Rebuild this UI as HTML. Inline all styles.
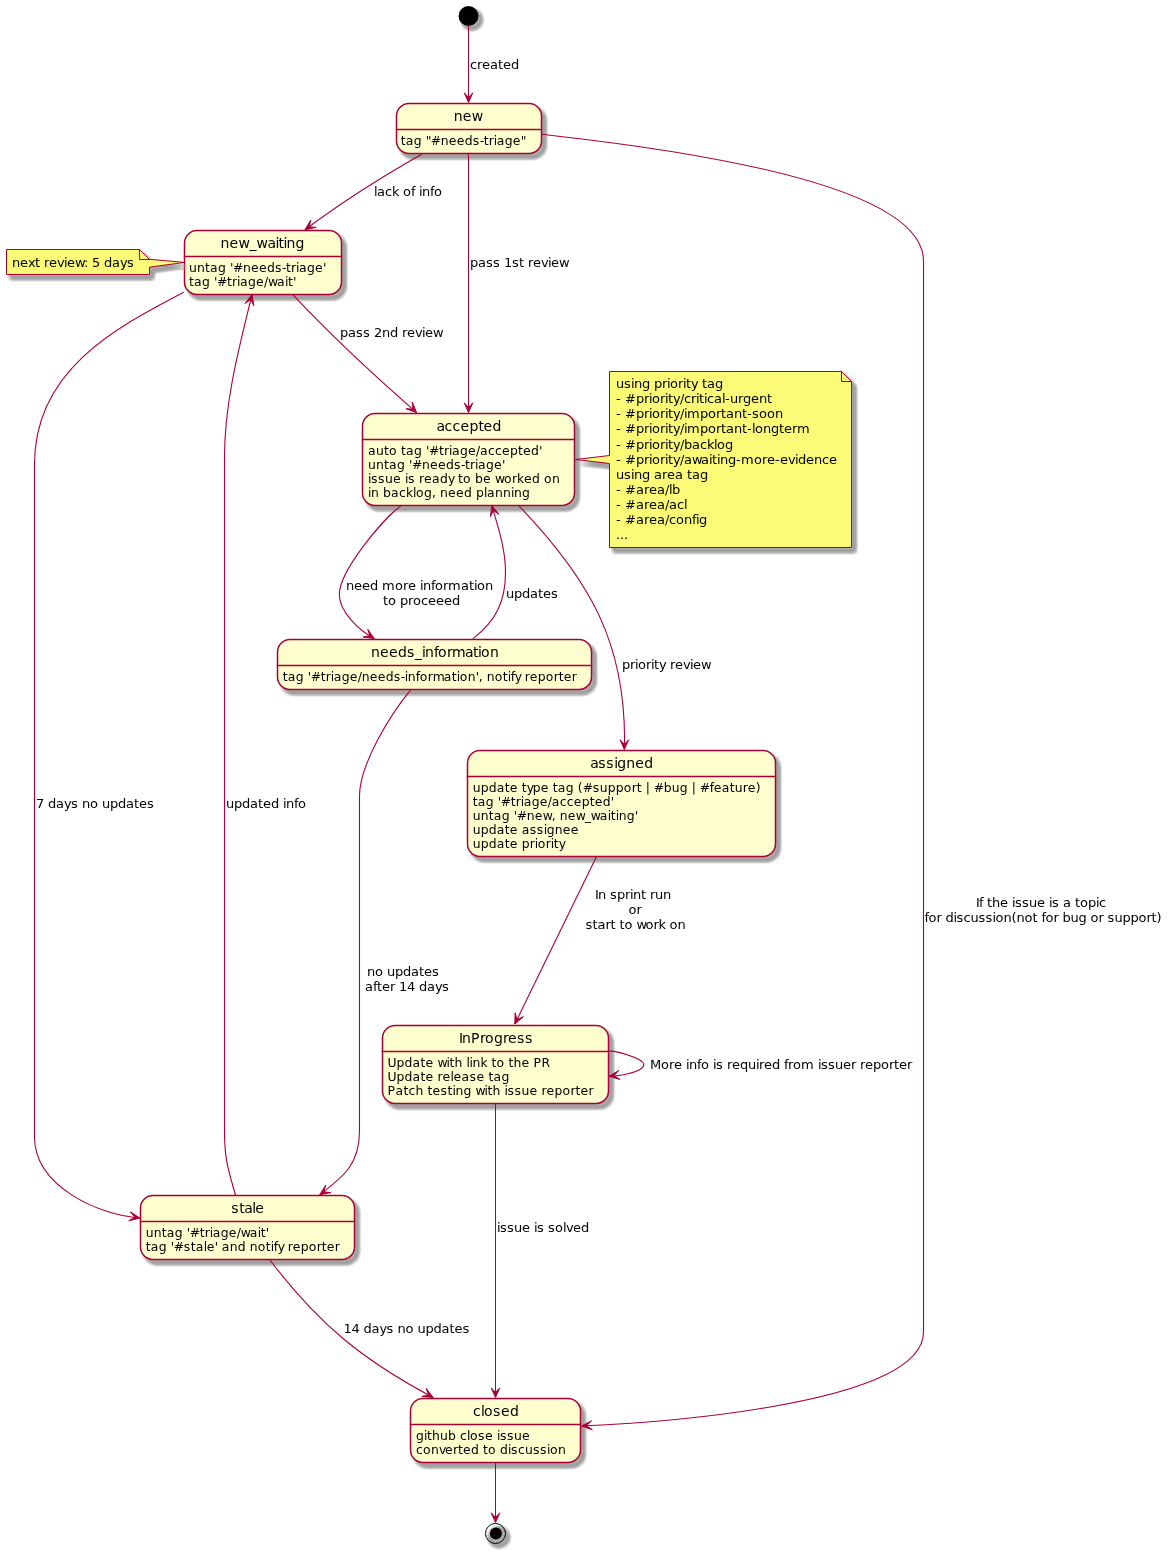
<!DOCTYPE html>
<html><head><meta charset="utf-8"><title>Issue triage state diagram</title>
<style>
html,body{margin:0;padding:0;background:#fff;}
body{width:1168px;height:1554px;overflow:hidden;}
svg{display:block;will-change:transform;}
text{font-family:"DejaVu Sans","Liberation Sans",sans-serif;fill:#000;}
</style></head><body>
<svg width="1168" height="1554" viewBox="0 0 1168 1554">
<defs><filter id="sh" x="-60%" y="-60%" width="220%" height="220%" color-interpolation-filters="sRGB">
<feOffset in="SourceAlpha" dx="4" dy="4" result="o"/>
<feConvolveMatrix in="o" order="6" kernelMatrix="1 1 1 1 1 1 1 1 1 1 1 1 1 1 1 1 1 1 1 1 1 1 1 1 1 1 1 1 1 1 1 1 1 1 1 1" divisor="36" targetX="2" targetY="2" edgeMode="none" preserveAlpha="false" result="b"/>
<feComponentTransfer in="b" result="t"><feFuncA type="table" tableValues="0.000 0.072 0.142 0.209 0.273 0.335 0.394 0.450 0.503 0.553 0.601 0.646 0.689 0.728 0.765 0.799 0.831 0.859 0.885 0.909 0.929 0.947 0.962 0.974 0.984 0.991 0.995 0.996 0.995 0.991 0.984 0.974 0.962 0.947 0.929 0.909 0.885"/></feComponentTransfer>
<feColorMatrix in="t" type="matrix" values="0 0 0 0 0.6235  0 0 0 0 0.6235  0 0 0 0 0.6235  0 0 0 1 0"/>
</filter></defs>
<rect x="0" y="0" width="1168" height="1554" fill="#FFFFFF"/>
<ellipse cx="468.5" cy="16" rx="10" ry="10" fill="#000" transform="translate(0,0.3)" filter="url(#sh)"/>
<ellipse cx="468.5" cy="16" rx="10" ry="10" fill="#000000"/>
<rect x="396.5" y="103.5" width="145" height="50" rx="12.5" ry="12.5" fill="#000" transform="translate(0.4,0.9)" filter="url(#sh)"/>
<rect x="396.5" y="103.5" width="145" height="50" rx="12.5" ry="12.5" fill="#FEFECE" stroke="#A80036" stroke-width="1.5"/>
<line x1="396.5" y1="129.4" x2="541.5" y2="129.4" stroke="#A80036" stroke-width="1.5" stroke-linecap="square"/>
<text x="453.8 462.8 471.8" y="120.5" font-size="14">new</text>
<text x="400.8 405.8 413.8 421.8 425.8 430.8 440.8 448.8 456.8 464.8 472.8 479.8 483.8 488.8 493.8 496.8 504.8 512.8 520.8" y="144.95" font-size="12.4">tag &quot;#needs-triage&quot;</text>
<rect x="184.5" y="230.5" width="157" height="64" rx="12.5" ry="12.5" fill="#000" transform="translate(0.4,0.9)" filter="url(#sh)"/>
<rect x="184.5" y="230.5" width="157" height="64" rx="12.5" ry="12.5" fill="#FEFECE" stroke="#A80036" stroke-width="1.5"/>
<line x1="184.5" y1="256.4" x2="341.5" y2="256.4" stroke="#A80036" stroke-width="1.5" stroke-linecap="square"/>
<text x="220.6 229.6 238.6 249.6 256.6 267.6 275.6 278.6 283.6 286.6 295.6" y="247.5" font-size="14">new_waiting</text>
<text x="189 197 205 210 218 226 230 233 243 251 259 267 275 282 286 291 296 299 307 315 323" y="271.95" font-size="12.4">untag '#needs-triage'</text>
<text x="189 194 202 210 214 217 227 232 237 240 248 256 264 268 277 285 288 293" y="285.95" font-size="12.4">tag '#triage/wait'</text>
<rect x="362.5" y="413.5" width="212" height="92" rx="12.5" ry="12.5" fill="#000" transform="translate(0.4,0.9)" filter="url(#sh)"/>
<rect x="362.5" y="413.5" width="212" height="92" rx="12.5" ry="12.5" fill="#FEFECE" stroke="#A80036" stroke-width="1.5"/>
<line x1="362.5" y1="439.4" x2="574.5" y2="439.4" stroke="#A80036" stroke-width="1.5" stroke-linecap="square"/>
<text x="436.4 444.4 452.4 460.4 469.4 478.4 483.4 492.4" y="430.5" font-size="14">accepted</text>
<text x="368.1 376.1 384.1 389.1 397.1 401.1 406.1 414.1 422.1 426.1 429.1 439.1 444.1 449.1 452.1 460.1 468.1 476.1 480.1 488.1 495.1 502.1 510.1 518.1 523.1 531.1 539.1" y="454.95" font-size="12.4">auto tag '#triage/accepted'</text>
<text x="368.1 376.1 384.1 389.1 397.1 405.1 409.1 412.1 422.1 430.1 438.1 446.1 454.1 461.1 465.1 470.1 475.1 478.1 486.1 494.1 502.1" y="468.95" font-size="12.4">untag '#needs-triage'</text>
<text x="368.1 371.1 378.1 385.1 393.1 401.1 405.1 408.1 415.1 419.1 424.1 432.1 440.1 448.1 454.1 458.1 463.1 471.1 475.1 483.1 491.1 495.1 504.1 512.1 517.1 524.1 532.1 540.1 544.1 552.1" y="482.95" font-size="12.4">issue is ready to be worked on</text>
<text x="368.1 371.1 379.1 383.1 391.1 399.1 406.1 413.1 416.1 424.1 432.1 436.1 440.1 448.1 456.1 464.1 472.1 476.1 484.1 487.1 495.1 503.1 511.1 514.1 522.1" y="496.95" font-size="12.4">in backlog, need planning</text>
<rect x="277.5" y="639.5" width="314" height="50" rx="12.5" ry="12.5" fill="#000" transform="translate(0.4,0.9)" filter="url(#sh)"/>
<rect x="277.5" y="639.5" width="314" height="50" rx="12.5" ry="12.5" fill="#FEFECE" stroke="#A80036" stroke-width="1.5"/>
<line x1="277.5" y1="665.4" x2="591.5" y2="665.4" stroke="#A80036" stroke-width="1.5" stroke-linecap="square"/>
<text x="370.9 379.9 388.9 397.9 406.9 414.9 421.9 424.9 433.9 437.9 446.9 451.9 464.9 472.9 477.9 480.9 489.9" y="656.5" font-size="14">needs_information</text>
<text x="282.8 287.8 295.8 303.8 307.8 310.8 320.8 325.8 330.8 333.8 341.8 349.8 357.8 361.8 369.8 377.8 385.8 393.8 400.8 404.8 407.8 415.8 419.8 427.8 432.8 443.8 451.8 456.8 459.8 467.8 475.8 478.8 482.8 486.8 494.8 502.8 507.8 510.8 514.8 520.8 524.8 529.8 537.8 545.8 553.8 558.8 563.8 571.8" y="680.95" font-size="12.4">tag '#triage/needs-information', notify reporter</text>
<rect x="467.5" y="750.5" width="308" height="106" rx="12.5" ry="12.5" fill="#000" transform="translate(0.4,0.9)" filter="url(#sh)"/>
<rect x="467.5" y="750.5" width="308" height="106" rx="12.5" ry="12.5" fill="#FEFECE" stroke="#A80036" stroke-width="1.5"/>
<line x1="467.5" y1="776.4" x2="775.5" y2="776.4" stroke="#A80036" stroke-width="1.5" stroke-linecap="square"/>
<text x="590.2 598.2 606.2 614.2 617.2 626.2 635.2 644.2" y="767.5" font-size="14">assigned</text>
<text x="472.8 480.8 488.8 496.8 504.8 509.8 517.8 521.8 526.8 532.8 540.8 548.8 552.8 557.8 565.8 573.8 577.8 582.8 592.8 599.8 607.8 615.8 623.8 631.8 636.8 641.8 645.8 649.8 653.8 663.8 671.8 679.8 687.8 691.8 695.8 699.8 709.8 713.8 721.8 729.8 734.8 742.8 747.8 755.8" y="791.95" font-size="12.4">update type tag (#support | #bug | #feature)</text>
<text x="472.8 477.8 485.8 493.8 497.8 500.8 510.8 515.8 520.8 523.8 531.8 539.8 547.8 551.8 559.8 566.8 573.8 581.8 589.8 594.8 602.8 610.8" y="805.95" font-size="12.4">tag '#triage/accepted'</text>
<text x="472.8 480.8 488.8 493.8 501.8 509.8 513.8 516.8 526.8 534.8 542.8 551.8 555.8 559.8 567.8 575.8 584.8 590.8 599.8 607.8 610.8 615.8 618.8 626.8 634.8" y="819.95" font-size="12.4">untag '#new, new_waiting'</text>
<text x="472.8 480.8 488.8 496.8 504.8 509.8 517.8 521.8 529.8 536.8 543.8 546.8 554.8 562.8 570.8" y="833.95" font-size="12.4">update assignee</text>
<text x="472.8 480.8 488.8 496.8 504.8 509.8 517.8 521.8 529.8 534.8 537.8 545.8 550.8 553.8 558.8" y="847.95" font-size="12.4">update priority</text>
<rect x="382.5" y="1025.5" width="226" height="78" rx="12.5" ry="12.5" fill="#000" transform="translate(0.4,0.9)" filter="url(#sh)"/>
<rect x="382.5" y="1025.5" width="226" height="78" rx="12.5" ry="12.5" fill="#FEFECE" stroke="#A80036" stroke-width="1.5"/>
<line x1="382.5" y1="1051.4" x2="608.5" y2="1051.4" stroke="#A80036" stroke-width="1.5" stroke-linecap="square"/>
<text x="459.1 462.1 471.1 480.1 485.1 494.1 503.1 508.1 517.1 525.1" y="1042.5" font-size="14">InProgress</text>
<text x="387.6 396.6 404.6 412.6 420.6 425.6 433.6 437.6 446.6 449.6 454.6 462.6 466.6 469.6 472.6 480.6 487.6 491.6 496.6 504.6 508.6 513.6 521.6 529.6 533.6 541.6" y="1066.95" font-size="12.4">Update with link to the PR</text>
<text x="387.6 396.6 404.6 412.6 420.6 425.6 433.6 437.6 442.6 450.6 453.6 461.6 469.6 476.6 484.6 488.6 493.6 501.6" y="1080.95" font-size="12.4">Update release tag</text>
<text x="387.6 395.6 403.6 408.6 415.6 423.6 427.6 432.6 440.6 447.6 452.6 455.6 463.6 471.6 475.6 484.6 487.6 492.6 500.6 504.6 507.6 514.6 521.6 529.6 537.6 541.6 546.6 554.6 562.6 570.6 575.6 580.6 588.6" y="1094.95" font-size="12.4">Patch testing with issue reporter</text>
<rect x="140.5" y="1195.5" width="214" height="64" rx="12.5" ry="12.5" fill="#000" transform="translate(0.4,0.9)" filter="url(#sh)"/>
<rect x="140.5" y="1195.5" width="214" height="64" rx="12.5" ry="12.5" fill="#FEFECE" stroke="#A80036" stroke-width="1.5"/>
<line x1="140.5" y1="1221.4" x2="354.5" y2="1221.4" stroke="#A80036" stroke-width="1.5" stroke-linecap="square"/>
<text x="231.2 239.2 244.2 252.2 255.2" y="1212.5" font-size="14">stale</text>
<text x="145.7 153.7 161.7 166.7 174.7 182.7 186.7 189.7 199.7 204.7 209.7 212.7 220.7 228.7 236.7 240.7 249.7 257.7 260.7 265.7" y="1236.95" font-size="12.4">untag '#triage/wait'</text>
<text x="145.7 150.7 158.7 166.7 170.7 173.7 183.7 190.7 195.7 203.7 206.7 214.7 217.7 221.7 229.7 237.7 245.7 249.7 257.7 265.7 270.7 273.7 277.7 283.7 287.7 292.7 300.7 308.7 316.7 321.7 326.7 334.7" y="1250.95" font-size="12.4">tag '#stale' and notify reporter</text>
<rect x="410.5" y="1398.5" width="170" height="64" rx="12.5" ry="12.5" fill="#000" transform="translate(0.4,0.9)" filter="url(#sh)"/>
<rect x="410.5" y="1398.5" width="170" height="64" rx="12.5" ry="12.5" fill="#FEFECE" stroke="#A80036" stroke-width="1.5"/>
<line x1="410.5" y1="1424.4" x2="580.5" y2="1424.4" stroke="#A80036" stroke-width="1.5" stroke-linecap="square"/>
<text x="473 481 484 493 501 510" y="1415.5" font-size="14">closed</text>
<text x="416 424 427 432 440 448 456 460 467 470 478 485 493 497 500 507 514 522" y="1439.95" font-size="12.4">github close issue</text>
<text x="416 423 431 439 445 453 458 463 471 479 483 488 496 500 508 511 518 525 533 540 547 550 558" y="1453.95" font-size="12.4">converted to discussion</text>
<path d="M6.5,249.5 L6.5,274.5 L149.5,274.5 L149.5,267.2 L184.5,262.4 L149.5,259.3 L149.5,259.5 L139.5,249.5 L6.5,249.5 Z" fill="#000" transform="translate(0.4,0.9)" filter="url(#sh)"/>
<path d="M6.5,249.5 L6.5,274.5 L149.5,274.5 L149.5,267.2 L184.5,262.4 L149.5,259.3 L149.5,259.5 L139.5,249.5 L6.5,249.5 Z" fill="#FBFB77" stroke="#A80036" stroke-width="1" stroke-miterlimit="12"/>
<path d="M139.5,249.5 L139.5,259.5 L149.5,259.5 L139.5,249.5" fill="none" stroke="#A80036" stroke-width="1"/>
<text x="11.9 19.9 27.9 34.9 39.9 43.9 48.9 56.9 63.9 66.9 74.9 83.9 87.9 91.9 99.9 103.9 111.9 119.9 126.9" y="266.5" font-size="13">next review: 5 days</text>
<path d="M609.5,371.5 L609.5,455.5 L575.5,459.5 L609.5,463.5 L609.5,547.5 L851.5,547.5 L851.5,381.5 L841.5,371.5 L609.5,371.5 Z" fill="#000" transform="translate(0.4,0.9)" filter="url(#sh)"/>
<path d="M609.5,371.5 L609.5,455.5 L575.5,459.5 L609.5,463.5 L609.5,547.5 L851.5,547.5 L851.5,381.5 L841.5,371.5 L609.5,371.5 Z" fill="#FBFB77" stroke="#A80036" stroke-width="1" stroke-miterlimit="12"/>
<path d="M841.5,371.5 L841.5,381.5 L851.5,381.5 L841.5,371.5" fill="none" stroke="#A80036" stroke-width="1"/>
<text x="615.9 623.9 630.9 633.9 641.9 649.9 653.9 661.9 666.9 669.9 677.9 682.9 685.9 690.9 697.9 701.9 706.9 714.9" y="387.5" font-size="13">using priority tag</text>
<text x="615.9 620.9 624.9 635.9 643.9 648.9 651.9 659.9 664.9 667.9 672.9 679.9 683.9 690.9 695.9 698.9 703.9 706.9 713.9 721.9 724.9 729.9 737.9 742.9 750.9 758.9 766.9" y="402.5" font-size="13">- #priority/critical-urgent</text>
<text x="615.9 620.9 624.9 635.9 643.9 648.9 651.9 659.9 664.9 667.9 672.9 679.9 683.9 686.9 699.9 707.9 715.9 720.9 725.9 733.9 741.9 746.9 751.9 758.9 766.9 774.9" y="417.5" font-size="13">- #priority/important-soon</text>
<text x="615.9 620.9 624.9 635.9 643.9 648.9 651.9 659.9 664.9 667.9 672.9 679.9 683.9 686.9 699.9 707.9 715.9 720.9 725.9 733.9 741.9 746.9 751.9 754.9 762.9 770.9 778.9 783.9 791.9 796.9" y="432.5" font-size="13">- #priority/important-longterm</text>
<text x="615.9 620.9 624.9 635.9 643.9 648.9 651.9 659.9 664.9 667.9 672.9 679.9 683.9 691.9 699.9 706.9 713.9 716.9 724.9" y="448.5" font-size="13">- #priority/backlog</text>
<text x="615.9 620.9 624.9 635.9 643.9 648.9 651.9 659.9 664.9 667.9 672.9 679.9 683.9 691.9 700.9 708.9 711.9 716.9 719.9 727.9 735.9 740.9 753.9 761.9 766.9 774.9 779.9 787.9 794.9 797.9 805.9 813.9 821.9 828.9" y="463.5" font-size="13">- #priority/awaiting-more-evidence</text>
<text x="615.9 623.9 630.9 633.9 641.9 649.9 653.9 661.9 666.9 674.9 682.9 686.9 691.9 699.9" y="478.5" font-size="13">using area tag</text>
<text x="615.9 620.9 624.9 635.9 643.9 648.9 656.9 664.9 668.9 671.9" y="493.5" font-size="13">- #area/lb</text>
<text x="615.9 620.9 624.9 635.9 643.9 648.9 656.9 664.9 668.9 676.9 683.9" y="508.5" font-size="13">- #area/acl</text>
<text x="615.9 620.9 624.9 635.9 643.9 648.9 656.9 664.9 668.9 675.9 683.9 691.9 695.9 698.9" y="523.5" font-size="13">- #area/config</text>
<text x="615.9 619.9 623.9" y="538.5" font-size="13">...</text>
<ellipse cx="495.5" cy="1533.5" rx="10" ry="10" fill="#000" transform="translate(0,0.3)" filter="url(#sh)"/>
<ellipse cx="495.5" cy="1533.5" rx="10" ry="10" fill="none" stroke="#000000" stroke-width="1"/>
<ellipse cx="495.9" cy="1533.4" rx="6" ry="6" fill="#000000"/>
<path d="M468.5,26 L468.5,98" fill="none" stroke="#A80036" stroke-width="1"/>
<polygon points="468.5,102.5 472.8,92.8 468.5,97.5 464.2,92.8" fill="#A80036" stroke="#A80036" stroke-width="1" stroke-miterlimit="10"/>
<text x="470 477 482 490 498 503 511" y="69" font-size="13">created</text>
<path d="M422.1,153.9 C381.66,176.9 342.22,201.67 305,229.7" fill="none" stroke="#A80036" stroke-width="1.1"/>
<polygon points="305,229.7 316.12,227.4 309.08,226.81 310.86,219.98" fill="#A80036" stroke="#A80036" stroke-width="1" stroke-miterlimit="10"/>
<text x="374 377 385 392 399 403 411 415 419 422 430 434" y="196" font-size="13">lack of info</text>
<path d="M468.5,153.5 L468.5,408" fill="none" stroke="#A80036" stroke-width="1"/>
<polygon points="468.5,412.5 472.8,402.8 468.5,407.5 464.2,402.8" fill="#A80036" stroke="#A80036" stroke-width="1" stroke-miterlimit="10"/>
<text x="470 478 486 493 500 504 512 519 524 528 533 541 548 551 559" y="267" font-size="13">pass 1st review</text>
<path d="M542.1,134.3 C610.84,142.11 923.5,174.12 923.5,261 L923.5,1332 C923.5,1408.01 632.56,1423.82 581.6,1426.05" fill="none" stroke="#A80036" stroke-width="1.1"/>
<polygon points="581.6,1426.05 592.32,1429.79 586.59,1425.67 591.62,1420.72" fill="#A80036" stroke="#A80036" stroke-width="1" stroke-miterlimit="10"/>
<text x="976 979 983 987 992 1000 1008 1012 1015 1022 1029 1037 1045 1049 1052 1059 1063 1071 1075 1080 1088 1096 1099" y="907" font-size="13">If the issue is a topic</text>
<text x="924.6 928.6 936.6 941.6 945.6 953.6 956.6 963.6 970.6 978.6 985.6 992.6 995.6 1003.6 1011.6 1016.6 1024.6 1032.6 1037.6 1041.6 1045.6 1053.6 1058.6 1062.6 1070.6 1078.6 1086.6 1090.6 1098.6 1103.6 1107.6 1114.6 1122.6 1130.6 1138.6 1146.6 1151.6 1156.6" y="922" font-size="13">for discussion(not for bug or support)</text>
<path d="M292.8,294.7 C331.78,336.39 373.62,375.1 416.6,412.6" fill="none" stroke="#A80036" stroke-width="1.1"/>
<polygon points="416.6,412.6 412.24,402.12 412.99,409.14 405.94,408.69" fill="#A80036" stroke="#A80036" stroke-width="1" stroke-miterlimit="10"/>
<text x="340 348 356 363 370 374 382 390 398 402 407 415 422 425 433" y="336.6" font-size="13">pass 2nd review</text>
<path d="M183.75,292.2 C112.02,329.45 34.5,372.13 34.5,464 L34.5,1137 C34.5,1186.14 98.56,1215.22 139.8,1218.05" fill="none" stroke="#A80036" stroke-width="1.1"/>
<polygon points="139.8,1218.05 130.32,1211.81 134.87,1217.21 128.78,1220.78" fill="#A80036" stroke="#A80036" stroke-width="1" stroke-miterlimit="10"/>
<text x="36 44 48 56 64 71 78 82 90 98 102 110 118 126 134 139 147" y="808" font-size="13">7 days no updates</text>
<path d="M235.6,1195.5 C228.06,1168.99 224.5,1159.54 224.5,1131 L224.5,457 C224.5,401.81 239.09,347.79 252.05,294.5" fill="none" stroke="#A80036" stroke-width="1.1"/>
<polygon points="252.05,294.5 245.04,303.43 250.8,299.34 253.85,305.71" fill="#A80036" stroke="#A80036" stroke-width="1" stroke-miterlimit="10"/>
<text x="226 234 242 250 258 263 271 279 283 286 294 298" y="808" font-size="13">updated info</text>
<path d="M400.8,506.1 C383.58,517.94 339.3,571 339.3,594.3 C339.3,611.97 359.39,630.78 374.2,638.5" fill="none" stroke="#A80036" stroke-width="1.1"/>
<polygon points="374.2,638.5 367.71,629.19 369.94,635.89 362.96,636.95" fill="#A80036" stroke="#A80036" stroke-width="1" stroke-miterlimit="10"/>
<text x="346 354 362 370 378 382 395 403 408 416 420 423 431 435 443 448 461 469 474 477 485" y="590" font-size="13">need more information</text>
<text x="383 388 396 400 408 413 421 428 436 444 452" y="605" font-size="13">to proceeed</text>
<path d="M472.9,638.9 C496.26,620.67 505.5,601.26 505.5,572 C505.5,548.91 498.19,527.52 491.85,505.6" fill="none" stroke="#A80036" stroke-width="1.1"/>
<polygon points="491.85,505.6 490.38,516.86 493.24,510.4 499.12,514.32" fill="#A80036" stroke="#A80036" stroke-width="1" stroke-miterlimit="10"/>
<text x="506 514 522 530 538 543 551" y="598" font-size="13">updates</text>
<path d="M518.9,505.8 C589.31,579.37 627.39,643.82 624.4,749.5" fill="none" stroke="#A80036" stroke-width="1.1"/>
<polygon points="624.4,749.5 628.7,739.8 624.4,744.5 620.1,739.8" fill="#A80036" stroke="#A80036" stroke-width="1" stroke-miterlimit="10"/>
<text x="622 630 635 638 646 651 654 659 666 670 675 683 690 693 701" y="669" font-size="13">priority review</text>
<path d="M410.8,689.8 C390.65,713.65 359.5,764.61 359.5,796 L359.5,1131 C359.5,1163.93 344.2,1176.04 319.75,1194.7" fill="none" stroke="#A80036" stroke-width="1.1"/>
<polygon points="319.75,1194.7 330.9,1192.58 323.88,1191.88 325.76,1185.07" fill="#A80036" stroke="#A80036" stroke-width="1" stroke-miterlimit="10"/>
<text x="367 375 383 387 395 403 411 419 424 432" y="976" font-size="13">no updates</text>
<text x="365 373 377 382 390 395 399 407 415 419 427 435 442" y="991" font-size="13">after 14 days</text>
<path d="M596.4,856.8 L514.8,1024.1" fill="none" stroke="#A80036" stroke-width="1.1"/>
<polygon points="514.8,1024.1 523.37,1016.66 516.94,1019.58 515.15,1012.75" fill="#A80036" stroke="#A80036" stroke-width="1" stroke-miterlimit="10"/>
<text x="595 598 606 610 617 625 630 633 641 646 650 655 663" y="899" font-size="13">In sprint run</text>
<text x="628.5 636.5" y="914" font-size="13">or</text>
<text x="585.4 592.4 597.4 605.4 610.4 615.4 619.4 624.4 632.4 636.4 645.4 653.4 658.4 665.4 669.4 677.4" y="929" font-size="13">start to work on</text>
<path d="M608.9,1051.25 C614.37,1050.12 643.8,1058.46 643.8,1064.4 C643.8,1072.57 615.21,1076.66 609.1,1076.3" fill="none" stroke="#A80036" stroke-width="1.1"/>
<polygon points="609.1,1076.3 620,1079.45 614.06,1075.65 618.82,1070.43" fill="#A80036" stroke="#A80036" stroke-width="1" stroke-miterlimit="10"/>
<text x="650 661 669 674 682 686 689 697 701 709 713 716 723 727 732 740 748 756 759 764 772 780 784 788 793 801 814 818 821 828 835 843 851 856 860 865 873 881 889 894 899 907" y="1069" font-size="13">More info is required from issuer reporter</text>
<path d="M495.5,1103.5 L495.5,1393" fill="none" stroke="#A80036" stroke-width="1"/>
<polygon points="495.5,1397.5 499.8,1387.8 495.5,1392.5 491.2,1387.8" fill="#A80036" stroke="#A80036" stroke-width="1" stroke-miterlimit="10"/>
<text x="497 500 507 514 522 530 534 537 544 548 555 563 566 573 581" y="1232" font-size="13">issue is solved</text>
<path d="M269.9,1260 C318.3,1323.89 362.89,1360.4 433.1,1397.4" fill="none" stroke="#A80036" stroke-width="1.1"/>
<polygon points="433.1,1397.4 426.15,1388.43 428.71,1395.01 421.79,1396.42" fill="#A80036" stroke="#A80036" stroke-width="1" stroke-miterlimit="10"/>
<text x="343.5 351.5 359.5 363.5 371.5 379.5 386.5 393.5 397.5 405.5 413.5 417.5 425.5 433.5 441.5 449.5 454.5 462.5" y="1333" font-size="13">14 days no updates</text>
<path d="M495.5,1462.5 L495.5,1518" fill="none" stroke="#A80036" stroke-width="1"/>
<polygon points="495.5,1522.5 499.8,1512.8 495.5,1517.5 491.2,1512.8" fill="#A80036" stroke="#A80036" stroke-width="1" stroke-miterlimit="10"/>
</svg>
</body></html>
